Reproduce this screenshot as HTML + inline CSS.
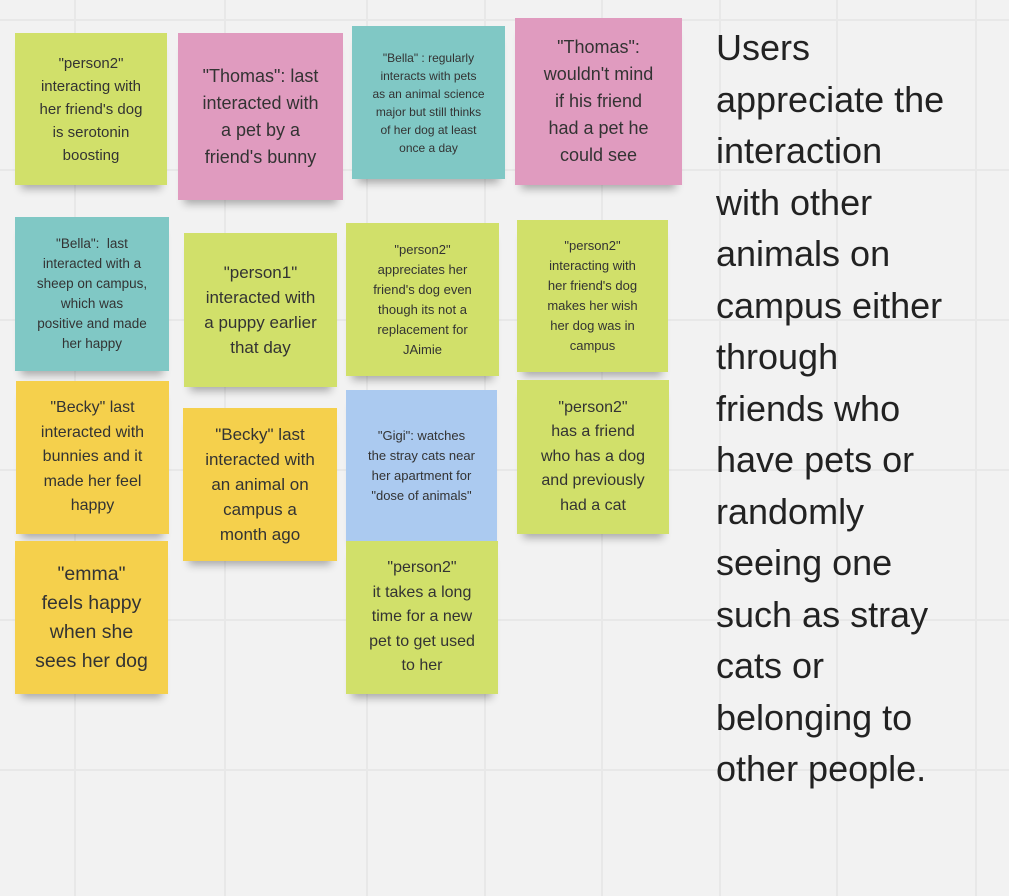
<!DOCTYPE html>
<html><head><style>
body{margin:0;width:1009px;height:896px;background:#f2f2f2;position:relative;overflow:hidden;font-family:"Liberation Sans",sans-serif;}
.v{position:absolute;top:0;width:2px;height:896px;background:#e8e8e8}
.h{position:absolute;left:0;height:2px;width:1009px;background:#e8e8e8}
.n{position:absolute;display:flex;align-items:center;justify-content:center;text-align:center;color:#333;box-shadow:0 10px 8px -6px rgba(0,0,0,.3);box-sizing:border-box;padding:4px}
.l{background:#d1e06a}.p{background:#e09bbf}.t{background:#80c8c5}.y{background:#f5d04c}.b{background:#abcaf0}
#txt{position:absolute;left:716px;top:22px;font-size:36px;line-height:51.5px;color:#222;}
</style></head><body>
<div class="v" style="left:74px"></div><div class="v" style="left:224px"></div><div class="v" style="left:366px"></div><div class="v" style="left:484px"></div><div class="v" style="left:601px"></div><div class="v" style="left:719px"></div><div class="v" style="left:836px"></div><div class="v" style="left:975px"></div>
<div class="h" style="top:19px"></div><div class="h" style="top:169px"></div><div class="h" style="top:319px"></div><div class="h" style="top:469px"></div><div class="h" style="top:619px"></div><div class="h" style="top:769px"></div>

<div class="n l" style="left:15px;top:33px;width:152px;height:152px;font-size:15px;line-height:23px">"person2"<br>interacting with<br>her friend's dog<br>is serotonin<br>boosting</div>
<div class="n p" style="left:178px;top:33px;width:165px;height:167px;font-size:18px;line-height:27px">"Thomas": last<br>interacted with<br>a pet by a<br>friend's bunny</div>
<div class="n t" style="left:352px;top:26px;width:153px;height:153px;font-size:12px;line-height:18px">"Bella" : regularly<br>interacts with pets<br>as an animal science<br>major but still thinks<br>of her dog at least<br>once a day</div>
<div class="n p" style="left:515px;top:18px;width:167px;height:167px;font-size:18px;line-height:27px">"Thomas":<br>wouldn't mind<br>if his friend<br>had a pet he<br>could see</div>
<div class="n t" style="left:15px;top:217px;width:154px;height:154px;font-size:13.5px;line-height:20px">"Bella": &nbsp;last<br>interacted with a<br>sheep on campus,<br>which was<br>positive and made<br>her happy</div>
<div class="n l" style="left:184px;top:233px;width:153px;height:154px;font-size:17px;line-height:25px">"person1"<br>interacted with<br>a puppy earlier<br>that day</div>
<div class="n l" style="left:346px;top:223px;width:153px;height:153px;font-size:13px;line-height:20px">"person2"<br>appreciates her<br>friend's dog even<br>though its not a<br>replacement for<br>JAimie</div>
<div class="n l" style="left:517px;top:220px;width:151px;height:152px;font-size:13px;line-height:20px">"person2"<br>interacting with<br>her friend's dog<br>makes her wish<br>her dog was in<br>campus</div>
<div class="n y" style="left:16px;top:381px;width:153px;height:153px;font-size:16px;line-height:24.5px">"Becky" last<br>interacted with<br>bunnies and it<br>made her feel<br>happy</div>
<div class="n y" style="left:183px;top:408px;width:154px;height:153px;font-size:17px;line-height:25px">"Becky" last<br>interacted with<br>an animal on<br>campus a<br>month ago</div>
<div class="n b" style="left:346px;top:390px;width:151px;height:151px;font-size:13px;line-height:20px">"Gigi": watches<br>the stray cats near<br>her apartment for<br>"dose of animals"</div>
<div class="n l" style="left:517px;top:380px;width:152px;height:154px;font-size:16px;line-height:24.5px">"person2"<br>has a friend<br>who has a dog<br>and previously<br>had a cat</div>
<div class="n y" style="left:15px;top:541px;width:153px;height:153px;font-size:19.5px;line-height:29px">"emma"<br>feels happy<br>when she<br>sees her dog</div>
<div class="n l" style="left:346px;top:541px;width:152px;height:153px;font-size:16px;line-height:24.5px">"person2"<br>it takes a long<br>time for a new<br>pet to get used<br>to her</div>

<div id="txt">Users<br>appreciate the<br>interaction<br>with other<br>animals on<br>campus either<br>through<br>friends who<br>have pets or<br>randomly<br>seeing one<br>such as stray<br>cats or<br>belonging to<br>other people.</div>
</body></html>
